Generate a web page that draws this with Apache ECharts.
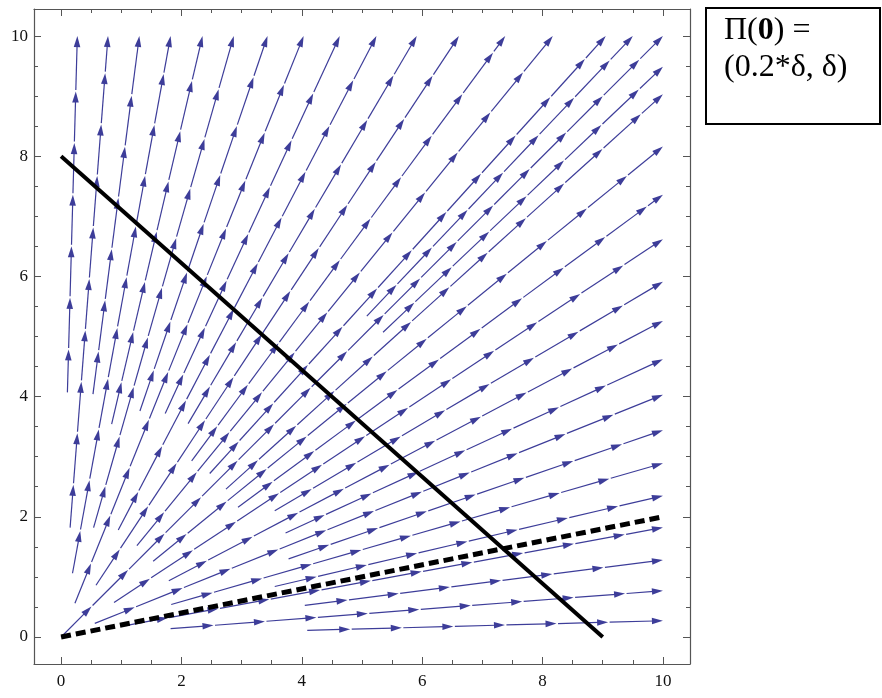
<!DOCTYPE html>
<html>
<head>
<meta charset="utf-8">
<script src="https://cdn.jsdelivr.net/npm/echarts@6/dist/echarts.min.js"></script>
<style>
  html, body { margin: 0; padding: 0; background: #fff; }
  #chart { width: 882px; height: 698px; }
</style>
</head>
<body>
<div id="chart"></div>
<script>
// axis ticks
var majorTicks = [0, 2, 4, 6, 8, 10];
var minorTicks = [0, 0.5, 1, 1.5, 2, 2.5, 3, 3.5, 4, 4.5, 5, 5.5, 6, 6.5, 7, 7.5, 8, 8.5, 9, 9.5, 10];

// streamlines: where each one starts and where it leaves the frame
var streamStarts = [
  [0.105, 4.07], [0.15, 1.82], [0.53, 4.04], [0.19, 1.06], [0.84, 3.54], [0.54, 1.82],
  [1.31, 3.76], [0.23, 0.56], [1.73, 3.72], [0.95, 1.78], [2.11, 3.55], [0.58, 0.86],
  [2.17, 2.93], [1.26, 1.52], [2.47, 2.72], [5.08, 5.34], [0, 0],
  [5.35, 5.07], [2.74, 2.46], [1.53, 1.26], [2.94, 2.16], [0.88, 0.575], [3.55, 2.10],
  [1.79, 0.935], [3.73, 1.73], [0.56, 0.226], [3.78, 1.30], [1.83, 0.54], [3.55, 0.84],
  [1.07, 0.19], [4.05, 0.525], [1.82, 0.138], [4.09, 0.11]
];
var streamEnds = [
  [0.27, 10], [0.78, 10], [1.30, 10], [1.82, 10], [2.35, 10], [2.87, 10],
  [3.43, 10], [4.03, 10], [4.63, 10], [5.24, 10], [5.91, 10], [6.61, 10],
  [7.38, 10], [8.17, 10], [9.05, 10], [9.50, 10], [10, 10],
  [10, 9.49], [10, 9.03], [10, 8.16], [10, 7.36], [10, 6.62], [10, 5.91],
  [10, 5.26], [10, 4.62], [10, 4.03], [10, 3.44], [10, 2.89], [10, 2.35],
  [10, 1.82], [10, 1.28], [10, 0.77], [10, 0.27]
];

// the two black lines
var solidLine = [[0, 8], [9, 0]];
var dashedLine = [[0, 0], [10, 2]];

var STREAM_COLOR = '#3d3d99';
var ARROW_FIRST = 43;   // px from start to first arrow tip
var ARROW_STEP = 51.6;  // px between arrows
var HEAD_LEN = 11;
var HEAD_W = 3.3;
var FONT = 'Liberation Serif';

var chart = echarts.init(document.getElementById('chart'));

function renderStream(params, api) {
  var a = api.coord([api.value(0), api.value(1)]);
  var b = api.coord([api.value(2), api.value(3)]);
  var dx = b[0] - a[0], dy = b[1] - a[1];
  var L = Math.sqrt(dx * dx + dy * dy);
  var ux = dx / L, uy = dy / L;
  var tips = [];
  for (var t = ARROW_FIRST; t < L - 16; t += ARROW_STEP) tips.push(t);
  tips.push(L);
  var children = [];
  var prev = 0;
  tips.forEach(function (t) {
    var tx = a[0] + ux * t, ty = a[1] + uy * t;
    var bx = tx - ux * HEAD_LEN, by = ty - uy * HEAD_LEN;
    children.push({
      type: 'line',
      shape: { x1: a[0] + ux * prev, y1: a[1] + uy * prev, x2: bx + ux * 2, y2: by + uy * 2 },
      style: { stroke: STREAM_COLOR, lineWidth: 1.2 }
    });
    children.push({
      type: 'polygon',
      shape: { points: [[tx, ty], [bx - uy * HEAD_W, by + ux * HEAD_W], [bx + uy * HEAD_W, by - ux * HEAD_W]] },
      style: { fill: STREAM_COLOR }
    });
    prev = t + 1.5;
  });
  return { type: 'group', children: children };
}

function frameAxis(kind, pos, ticks, len, labels, line) {
  return {
    type: 'value',
    position: pos,
    min: -0.45,
    max: 10.45,
    splitLine: { show: false },
    axisLine: { show: line, onZero: false, lineStyle: { color: '#555', width: 1.2 } },
    axisTick: { show: true, inside: true, length: len, customValues: ticks, lineStyle: { color: '#555', width: 1 } },
    axisLabel: labels ? {
      show: true, customValues: majorTicks, fontFamily: FONT, fontSize: 17, color: '#111',
      margin: kind === 'x' ? 9 : 6
    } : { show: false }
  };
}

chart.setOption({
  animation: false,
  grid: { left: 34, right: 192, top: 9, bottom: 34 },
  xAxis: [
    frameAxis('x', 'bottom', majorTicks, 7, true, true),
    frameAxis('x', 'bottom', minorTicks, 4, false, false),
    frameAxis('x', 'top', majorTicks, 7, false, true),
    frameAxis('x', 'top', minorTicks, 4, false, false)
  ],
  yAxis: [
    frameAxis('y', 'left', majorTicks, 7, true, true),
    frameAxis('y', 'left', minorTicks, 4, false, false),
    frameAxis('y', 'right', majorTicks, 7, false, true),
    frameAxis('y', 'right', minorTicks, 4, false, false)
  ],
  series: [
    {
      type: 'custom',
      renderItem: renderStream,
      encode: { x: [0, 2], y: [1, 3] },
      data: streamStarts.map(function (s, i) { return [s[0], s[1], streamEnds[i][0], streamEnds[i][1]]; }),
      z: 2
    },
    {
      type: 'line',
      data: solidLine,
      symbol: 'none',
      lineStyle: { color: '#000', width: 4 },
      z: 3
    },
    {
      type: 'line',
      data: dashedLine,
      symbol: 'none',
      lineStyle: { color: '#000', width: 5, type: [10, 5], cap: 'butt' },
      z: 4
    }
  ],
  graphic: [
    {
      type: 'rect',
      shape: { x: 706, y: 8, width: 174, height: 116 },
      style: { fill: '#fff', stroke: '#000', lineWidth: 2 }
    },
    {
      type: 'text',
      x: 724, y: 31,
      style: {
        text: '{n|Π(}{b|0}{n|) =}',
        verticalAlign: 'middle',
        rich: {
          n: { fontFamily: FONT, fontSize: 32, fill: '#000' },
          b: { fontFamily: FONT, fontSize: 32, fontWeight: 'bold', fill: '#000' }
        }
      }
    },
    {
      type: 'text',
      x: 724, y: 68,
      style: {
        text: '(0.2*δ, δ)',
        verticalAlign: 'middle',
        fontFamily: FONT, fontSize: 32, fill: '#000'
      }
    }
  ]
});
</script>
</body>
</html>
